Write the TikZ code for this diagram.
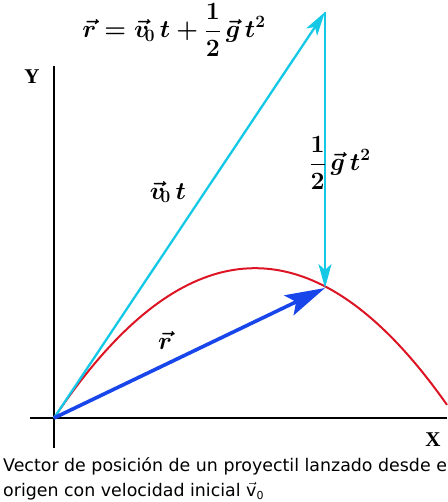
\documentclass[tikz,border=0pt]{standalone}
\usepackage{fontspec}
\setmainfont{DejaVu Sans}
\newfontfamily\axisfont{Liberation Serif}
\usetikzlibrary{arrows.meta}
\definecolor{cyanv}{RGB}{20,200,230}
\definecolor{bluev}{RGB}{25,70,235}
\definecolor{redv}{RGB}{220,20,35}
\tikzset{
  axis/.style={line width=2.6pt,black},
  vecarrow/.style={line width=2.3pt,-{Stealth[length=24pt,width=13pt,inset=6pt]}},
  lbl/.style={inner sep=0pt,font=\fontsize{23}{28}\selectfont\boldmath},
  axlbl/.style={inner sep=0pt,font=\axisfont\bfseries\fontsize{21}{22}\selectfont},
  captxt/.style={anchor=west,inner sep=0pt,font=\fontsize{17.4}{20}\selectfont},
}
\begin{document}
\begin{tikzpicture}[x=1pt,y=-1pt]
\useasboundingbox (0,0) rectangle (447,502);
\coordinate (O) at (54,418);
\coordinate (P) at (325,12);
\coordinate (Q) at (325,288);
\coordinate (ytop) at (54,66);
\coordinate (ybot) at (54,448);
\coordinate (xl) at (30,418);
\coordinate (xr) at (447,418);
% axes
\draw[axis] (ybot) -- (ytop);
\draw[axis] (xl) -- (xr);
% parabola
\draw[redv,line width=2pt,domain=54:447,samples=80,variable=\x]
  plot (\x,{418-0.00371*(\x-54)*(456-\x)});
% vectors
\draw[vecarrow,cyanv] (O) -- (P);
\draw[vecarrow,cyanv] (P) -- (Q);
\draw[bluev,line width=3.6pt,-{Stealth[length=40pt,width=22pt,inset=8pt]}] (O) -- (Q);
% labels
\node[axlbl] (Y) at (32,77) {Y};
\node[axlbl] (X) at (433,440) {X};
\node[lbl] (eq) at (174,30) {$\displaystyle\vec{r}=\vec{v}_{\!0}\,t+\frac{1}{2}\,\vec{g}\,t^{2}$};
\node[lbl] (half) at (340,163) {$\displaystyle\frac{1}{2}\,\vec{g}\,t^{2}$};
\node[lbl] (v0t) at (168,192) {$\vec{v}_{\!0}\,t$};
\node[lbl] (rr) at (165,340) {$\vec{r}$};
\node[captxt] (cap1) at (3,466) {Vector de posición de un proyectil lanzado desde el};
\node[captxt] (cap2) at (3,491) {origen con velocidad inicial $\vec{\mbox{v}}$\raisebox{-0.35ex}{\fontsize{11}{12}\selectfont 0}};
\end{tikzpicture}
\end{document}
